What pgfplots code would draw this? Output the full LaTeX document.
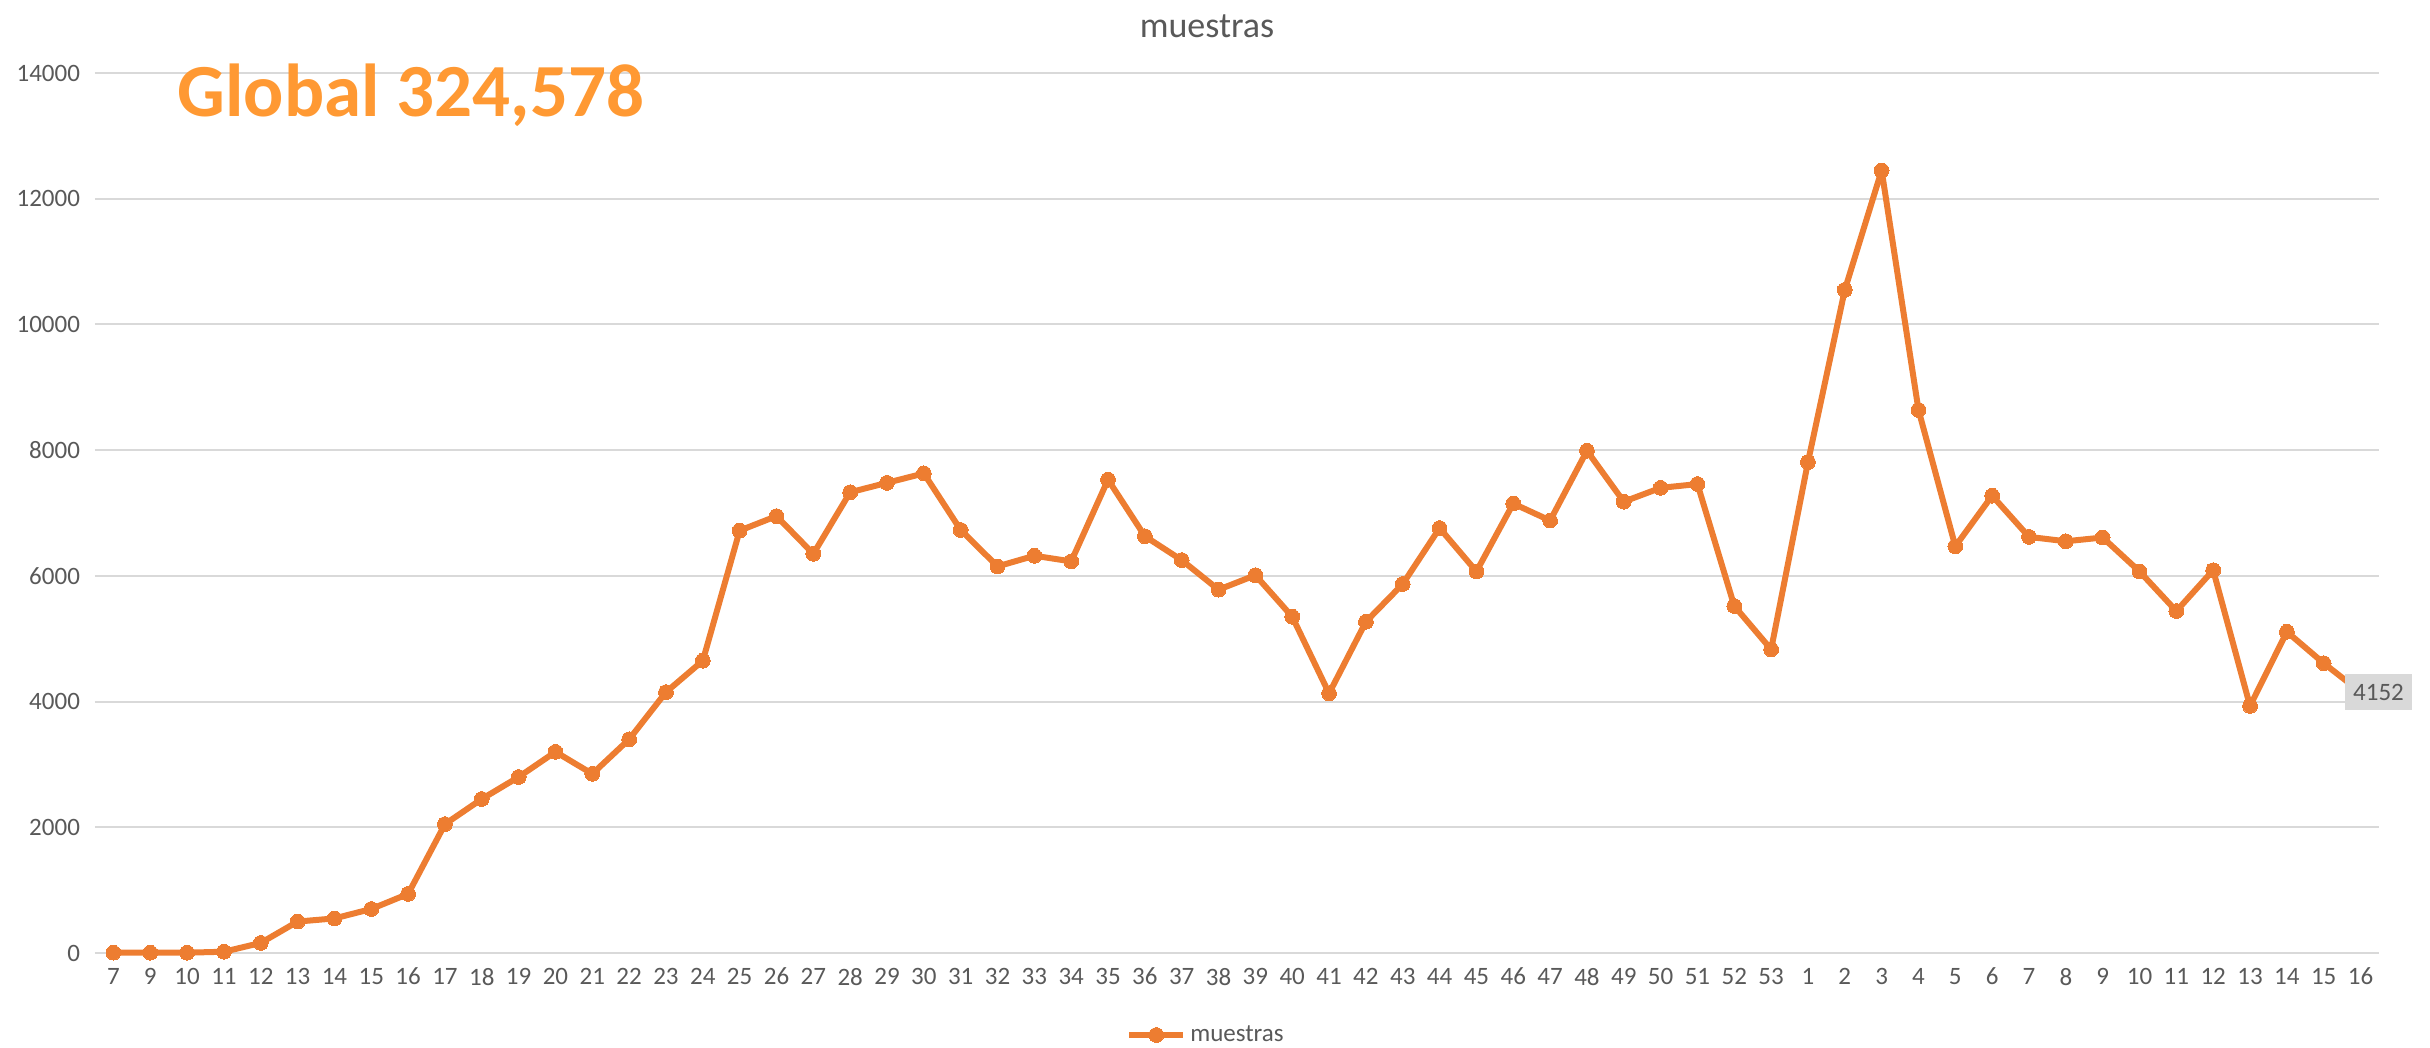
\documentclass[border=0pt]{standalone}
\usepackage{pgfplots}
\pgfplotsset{compat=1.18}
\usepackage{fontspec}
\setmainfont{Carlito}
\definecolor{serie}{HTML}{ED7D31}
\definecolor{globtxt}{HTML}{FF9933}
\definecolor{txt}{HTML}{595959}
\definecolor{grd}{HTML}{D9D9D9}
\begin{document}
\begin{tikzpicture}
\path[use as bounding box] (-47.5pt,-47.5pt) rectangle (1167.5pt,476.5pt);
\begin{axis}[
  scale only axis,
  width=1142pt, height=440pt,
  xmin=-0.5, xmax=61.5,
  ymin=0, ymax=14000,
  ytick={0,2000,...,14000},
  xtick={0,...,61},
  xticklabels={7,9,10,11,12,13,14,15,16,17,18,19,20,21,22,23,24,25,26,27,28,29,30,31,32,33,34,35,36,37,38,39,40,41,42,43,44,45,46,47,48,49,50,51,52,53,1,2,3,4,5,6,7,8,9,10,11,12,13,14,15,16},
  ymajorgrids,
  grid style={grd, line width=1pt},
  axis line style={draw=none},
  major tick length=0pt,
  tick label style={font=\fontsize{12.5}{14}\selectfont, text=txt},
  /pgf/number format/assume math mode=true,
  scaled y ticks=false,
  yticklabel style={/pgf/number format/fixed, /pgf/number format/1000 sep={}},
  xticklabel style={yshift=-4pt},
  yticklabel style={xshift=-4pt},
  title={muestras},
  title style={font=\fontsize{18}{20}\selectfont, text=txt, yshift=8pt, xshift=-15pt},
  legend style={at={(0.5,0)}, anchor=center, yshift=-41pt, xshift=-15pt, draw=none,
    font=\fontsize{12.5}{14}\selectfont, text=txt},
  legend image code/.code={\draw[#1, mark indices={2}] plot coordinates {(0pt,0pt) (13.5pt,0pt) (27pt,0pt)};},
  clip=false,
]
\addplot[serie, line width=3pt, line join=round, mark=*, mark size=3.7pt, mark indices={1,...,61},
  mark options={fill=serie, draw=serie, line width=0pt}]
coordinates {
(0,5) (1,5) (2,5) (3,20) (4,160) (5,500) (6,550) (7,700) (8,940) (9,2050)
(10,2450) (11,2800) (12,3200) (13,2850) (14,3400) (15,4150) (16,4650) (17,6720) (18,6950) (19,6350)
(20,7330) (21,7480) (22,7630) (23,6730) (24,6150) (25,6320) (26,6230) (27,7530) (28,6630) (29,6250)
(30,5780) (31,6010) (32,5350) (33,4130) (34,5270) (35,5870) (36,6760) (37,6070) (38,7150) (39,6880)
(40,7990) (41,7180) (42,7400) (43,7460) (44,5520) (45,4830) (46,7810) (47,10550) (48,12450) (49,8640)
(50,6470) (51,7275) (52,6620) (53,6550) (54,6610) (55,6070) (56,5440) (57,6090) (58,3930) (59,5110)
(60,4610) (61,4152)
};
\addlegendentry{muestras}
\node[fill=grd, text=txt, font=\fontsize{12.5}{14}\selectfont, inner xsep=4pt, inner ysep=5pt] at (axis cs:61,4152) [xshift=9pt] {4152};
\node[anchor=west, text=globtxt, font=\fontsize{37.5}{40}\selectfont\bfseries] at (rel axis cs:0.033,0.975) {Global 324,578};
\end{axis}
\end{tikzpicture}
\end{document}
